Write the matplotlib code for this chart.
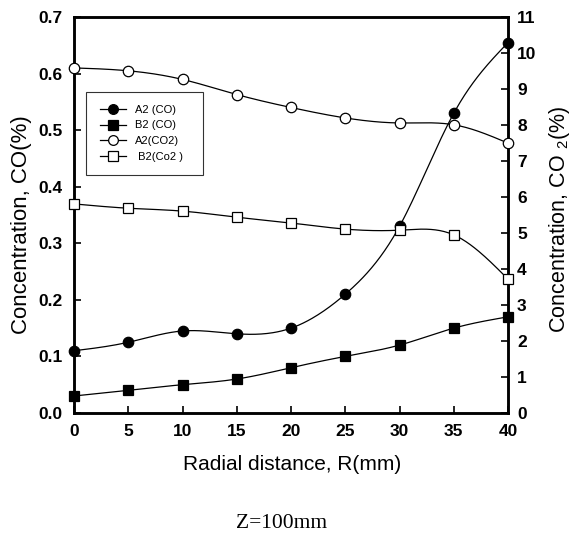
import numpy as np
import matplotlib.pyplot as plt

# data
r = [0, 5, 10, 15, 20, 25, 30, 35, 40]
a2_co = [0.11, 0.125, 0.145, 0.14, 0.15, 0.21, 0.33, 0.53, 0.655]
b2_co = [0.03, 0.04, 0.05, 0.06, 0.08, 0.10, 0.12, 0.15, 0.17]
a2_co2 = [9.59, 9.51, 9.27, 8.85, 8.49, 8.20, 8.06, 8.01, 7.50]
b2_co2 = [5.81, 5.69, 5.61, 5.44, 5.28, 5.11, 5.08, 4.95, 3.72]


# natural cubic spline, only for drawing the smooth connecting lines
def smooth(x, y, n=300):
    x = np.asarray(x, float)
    y = np.asarray(y, float)
    k = len(x)
    h = np.diff(x)
    A = np.zeros((k, k))
    b = np.zeros(k)
    A[0, 0] = A[-1, -1] = 1
    for i in range(1, k - 1):
        A[i, i - 1] = h[i - 1]
        A[i, i] = 2 * (h[i - 1] + h[i])
        A[i, i + 1] = h[i]
        b[i] = 3 * ((y[i + 1] - y[i]) / h[i] - (y[i] - y[i - 1]) / h[i - 1])
    c = np.linalg.solve(A, b)
    xs = np.linspace(x[0], x[-1], n)
    idx = np.clip(np.searchsorted(x, xs) - 1, 0, k - 2)
    dx = xs - x[idx]
    bb = (y[idx + 1] - y[idx]) / h[idx] - h[idx] * (2 * c[idx] + c[idx + 1]) / 3
    dd = (c[idx + 1] - c[idx]) / (3 * h[idx])
    ys = y[idx] + bb * dx + c[idx] * dx ** 2 + dd * dx ** 3
    return xs, ys


plt.rcParams['font.family'] = ['Liberation Sans', 'DejaVu Sans']
plt.rcParams['mathtext.fontset'] = 'custom'
plt.rcParams['mathtext.rm'] = 'Liberation Sans'
plt.rcParams['mathtext.it'] = 'Liberation Sans'

fig = plt.figure(figsize=(5.74, 5.37), dpi=100)
ax = fig.add_axes([0.129, 0.231, 0.756, 0.737])
ax2 = ax.twinx()

def series(axis, x, y, marker, face, label):
    xs, ys = smooth(x, y)
    axis.plot(xs, ys, color='black', lw=0.9)
    axis.plot(x, y, linestyle='none', marker=marker, ms=7.5 if marker == 'o' else 7,
              mfc=face, mec='black', mew=0.9, clip_on=False, zorder=5)
    return axis.plot([], [], color='black', lw=0.9, marker=marker, ms=7,
                     mfc=face, mec='black', mew=0.9, label=label)[0]

h1 = series(ax, r, a2_co, 'o', 'black', 'A2 (CO)')
h2 = series(ax, r, b2_co, 's', 'black', 'B2 (CO)')
h3 = series(ax2, r, a2_co2, 'o', 'white', 'A2(CO2)')
h4 = series(ax2, r, b2_co2, 's', 'white', ' B2(Co2 )')

ax.set_xlim(0, 40)
ax.set_ylim(0, 0.7)
ax2.set_ylim(0, 11)
ax.set_xticks(range(0, 41, 5))
ax.set_yticks(np.arange(0, 0.71, 0.1))
ax.set_yticklabels(['%.1f' % v for v in np.arange(0, 0.71, 0.1)])
ax2.set_yticks(range(0, 12))

for a in (ax, ax2):
    for s in a.spines.values():
        s.set_linewidth(1.8)
    a.tick_params(direction='in', length=5, width=1.2, labelsize=12.5)
    for t in a.get_xticklabels() + a.get_yticklabels():
        t.set_fontweight('bold')
ax.tick_params(axis='x', pad=8)
ax.tick_params(axis='y', pad=8)
ax2.tick_params(axis='y', pad=6.5)

ax.set_ylabel('Concentration, CO(%)', fontsize=16, va='center')
ax.yaxis.set_label_coords(-0.120, 0.477)
ax2.set_ylabel('Concentration, CO $_2$(%)', fontsize=15.5, va='center')
ax2.yaxis.set_label_coords(1.118, 0.49)
ax.set_xlabel('Radial distance, R(mm)', fontsize=15, va='center')
ax.xaxis.set_label_coords(0.502, -0.131)

leg = ax.legend(handles=[h1, h2, h3, h4], loc='upper left',
                bbox_to_anchor=(0.028, 0.5, 0.27, 0.312), mode='expand',
                fontsize=8, frameon=True, fancybox=False, edgecolor='black',
                handlelength=2.4, borderpad=1.2, labelspacing=0.5, borderaxespad=0)
leg.get_frame().set_linewidth(0.8)

fig.text(0.49, 0.026, 'Z=100mm', ha='center', va='center', fontsize=15.5,
         family='Liberation Serif')

fig.savefig('out.png', dpi=100)
